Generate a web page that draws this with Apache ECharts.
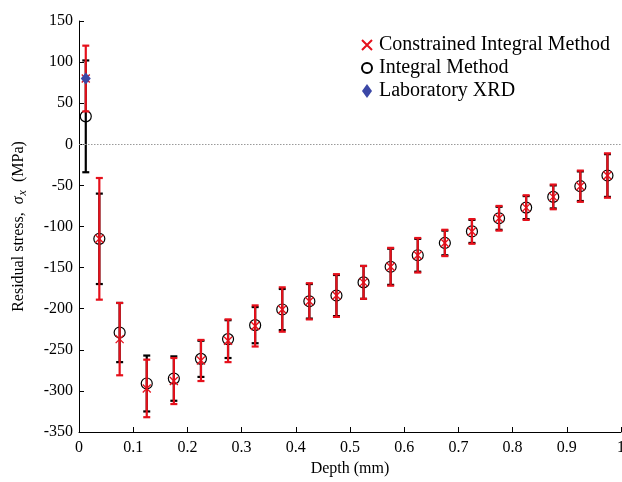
<!DOCTYPE html>
<html>
<head>
<meta charset="utf-8">
<script src="https://cdn.jsdelivr.net/npm/echarts@6/dist/echarts.min.js"></script>
<style>
html,body{margin:0;padding:0;background:#fff;}
#chart{width:622px;height:482px;}
</style>
</head>
<body>
<div id="chart"></div>
<script>
// Data
const depth = [0.0125, 0.0375, 0.075, 0.125, 0.175, 0.225, 0.275, 0.325, 0.375, 0.425, 0.475, 0.525, 0.575, 0.625, 0.675, 0.725, 0.775, 0.825, 0.875, 0.925, 0.975];
const integralVals = [34, -115, -229, -291, -285, -261, -237, -220, -201, -191, -184, -168, -149, -135, -120, -106, -90, -77, -64, -51, -38];
const integralErr = [68, 55, 36, 34, 27, 22, 23, 22, 25, 21, 25, 20, 22, 20, 15, 14, 14, 14, 14, 18, 26];
const constrainedVals = [80, -115, -237, -297, -288, -263, -239, -221, -201, -191, -184, -168, -149, -135, -120, -106, -90, -77, -64, -51, -38];
const constrainedErr = [40, 74, 44, 35, 28, 25, 26, 25, 27, 22, 26, 20, 23, 21, 16, 15, 15, 15, 15, 19, 27];
const xrdDepth = [0.0125];
const xrdVals = [80];
const seriesNames = ['Constrained Integral Method', 'Integral Method', 'Laboratory XRD'];
const yTicks = {min: -350, max: 150, interval: 50};
const xTicks = {min: 0, max: 1, interval: 0.1};

const FONT = "'Liberation Serif', 'Times New Roman', serif";
const RED = '#e5101b';
const BLUE = '#3b47a6';

function errSeries(color, vals, errs, z) {
  return {
    type: 'custom',
    z: z,
    silent: true,
    data: depth.map((d, i) => [d, vals[i] - errs[i], vals[i] + errs[i]]),
    encode: {x: 0, y: [1, 2]},
    renderItem: function (params, api) {
      const x = api.value(0), lo = api.value(1), hi = api.value(2);
      const p1 = api.coord([x, hi]);
      const p2 = api.coord([x, lo]);
      const hw = 3.5;
      const st = {stroke: color, lineWidth: 2.2};
      return {
        type: 'group',
        children: [
          {type: 'line', shape: {x1: p1[0], y1: p1[1], x2: p2[0], y2: p2[1]}, style: st},
          {type: 'line', shape: {x1: p1[0] - hw, y1: p1[1], x2: p1[0] + hw, y2: p1[1]}, style: st},
          {type: 'line', shape: {x1: p2[0] - hw, y1: p2[1], x2: p2[0] + hw, y2: p2[1]}, style: st}
        ]
      };
    }
  };
}

const chart = echarts.init(document.getElementById('chart'), null, {renderer: 'canvas'});
chart.setOption({
  animation: false,
  backgroundColor: '#fff',
  grid: {left: 79, right: 1, top: 21, bottom: 50, containLabel: false, outerBoundsMode: 'none'},
  legend: {
    orient: 'vertical',
    left: 356,
    top: 30,
    itemWidth: 10,
    itemHeight: 14,
    itemGap: 3,
    textStyle: {fontFamily: FONT, fontSize: 20, color: '#000', padding: [0, 0, 0, 2]},
    data: [
      {name: seriesNames[0]},
      {name: seriesNames[1]},
      {name: seriesNames[2], icon: 'path://M5,0L10,7L5,14L0,7Z'}
    ]
  },
  xAxis: {
    type: 'value',
    min: xTicks.min, max: xTicks.max, interval: xTicks.interval,
    name: 'Depth (mm)',
    nameLocation: 'middle',
    nameGap: 20,
    nameTextStyle: {fontFamily: FONT, fontSize: 16, color: '#000'},
    axisLine: {onZero: false, lineStyle: {color: '#000', width: 1}},
    axisTick: {inside: true, length: 5, lineStyle: {color: '#000'}},
    axisLabel: {fontFamily: FONT, fontSize: 16, color: '#000', margin: 8,
      formatter: v => String(+v.toFixed(1))},
    splitLine: {show: false}
  },
  yAxis: {
    type: 'value',
    min: yTicks.min, max: yTicks.max, interval: yTicks.interval,
    name: '{a|Residual stress,  }{s|σ}{sub|x}{a|  (MPa)}',
    nameLocation: 'middle',
    nameGap: 50,
    nameTextStyle: {
      fontFamily: FONT, fontSize: 16, color: '#000',
      rich: {
        a: {fontFamily: FONT, fontSize: 16, color: '#000'},
        s: {fontFamily: FONT, fontSize: 16, color: '#000', fontStyle: 'italic'},
        sub: {fontFamily: FONT, fontSize: 12, color: '#000', fontStyle: 'italic', padding: [8, 0, 0, 1]}
      }
    },
    axisLine: {onZero: false, lineStyle: {color: '#000', width: 1}},
    axisTick: {inside: true, length: 5, lineStyle: {color: '#000'}},
    axisLabel: {fontFamily: FONT, fontSize: 16, color: '#000', margin: 6},
    splitLine: {show: false}
  },
  series: [
    errSeries('#000', integralVals, integralErr, 2),
    {
      name: seriesNames[1],
      type: 'scatter',
      z: 3,
      symbol: 'circle',
      symbolSize: 11,
      itemStyle: {color: 'rgba(0,0,0,0)', borderColor: '#000', borderWidth: 1.2, opacity: 1},
      data: depth.map((d, i) => [d, integralVals[i]]),
      markLine: {
        silent: true,
        symbol: 'none',
        label: {show: false},
        lineStyle: {type: [1.5, 1.5], color: '#9a9a9a', width: 1},
        data: [{yAxis: 0}]
      }
    },
    errSeries(RED, constrainedVals, constrainedErr, 4),
    {
      name: seriesNames[0],
      type: 'scatter',
      z: 5,
      symbol: 'path://M0,0L10,10M10,0L0,10',
      symbolSize: 8,
      itemStyle: {color: 'rgba(0,0,0,0)', borderColor: RED, borderWidth: 1.3, opacity: 1},
      data: depth.map((d, i) => [d, constrainedVals[i]])
    },
    {
      name: seriesNames[2],
      type: 'scatter',
      z: 6,
      symbol: 'diamond',
      symbolSize: [10, 12],
      itemStyle: {color: BLUE, opacity: 1},
      data: xrdDepth.map((d, i) => [d, xrdVals[i]])
    }
  ]
});
</script>
</body>
</html>
